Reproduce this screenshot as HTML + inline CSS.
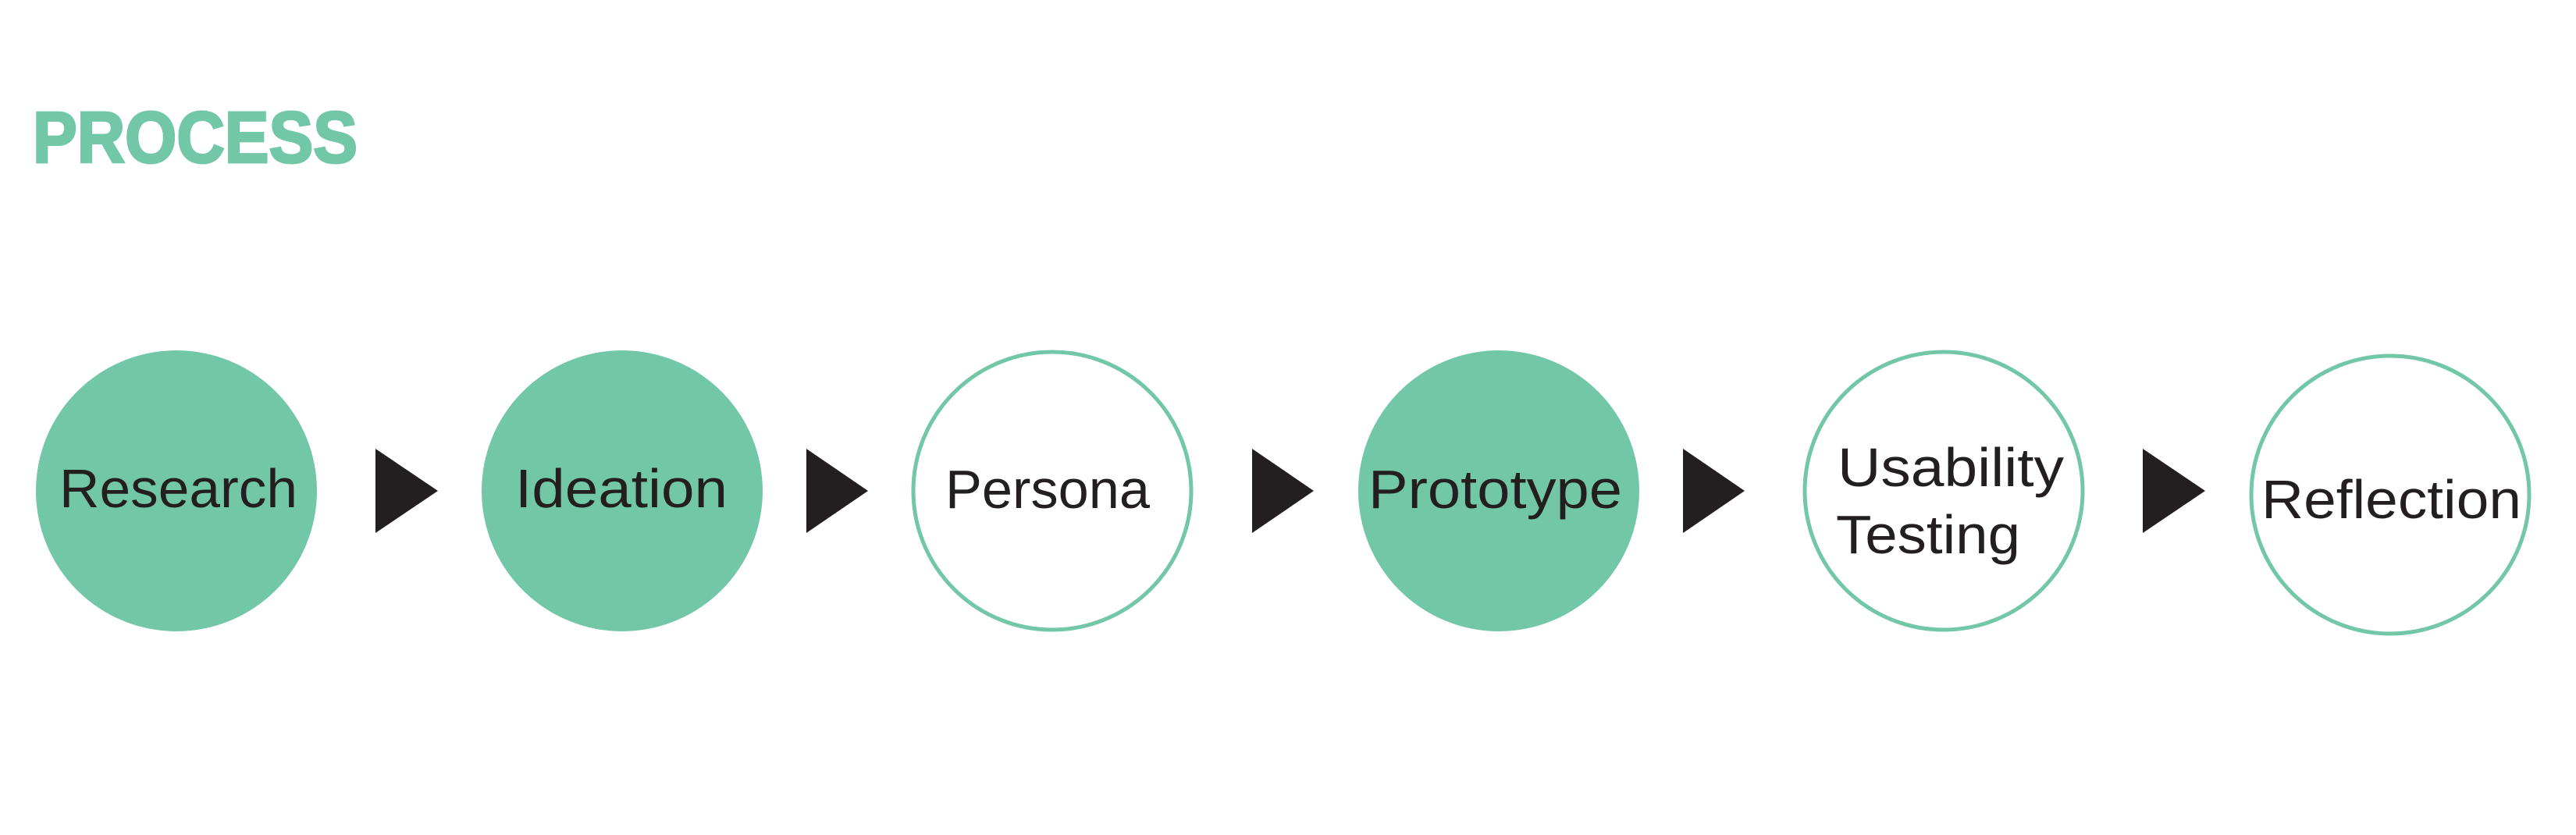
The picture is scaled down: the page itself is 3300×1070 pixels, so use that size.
<!DOCTYPE html>
<html><head><meta charset="utf-8"><style>
html,body{margin:0;padding:0;background:#fff;}
svg{display:block;}
</style></head><body>
<svg width="3300" height="1070" viewBox="0 0 3300 1070" xmlns="http://www.w3.org/2000/svg">
<rect width="3300" height="1070" fill="#fff"/>
<text x="42" y="208" font-family="Liberation Sans, sans-serif" font-weight="bold" font-size="93" fill="#72c7a6" stroke="#72c7a6" stroke-width="3" textLength="416" lengthAdjust="spacingAndGlyphs">PROCESS</text>
<g fill="#72c7a6">
<circle cx="226" cy="629" r="180"/>
<circle cx="797" cy="629" r="180"/>
<circle cx="1920" cy="629" r="180"/>
</g>
<g fill="none" stroke="#72c7a6" stroke-width="5">
<circle cx="1348" cy="629" r="178"/>
<circle cx="2490" cy="629" r="178"/>
<circle cx="3062" cy="634" r="178"/>
</g>
<g fill="#231f20">
<polygon points="481,575 561,629 481,683"/>
<polygon points="1033,575 1112,629 1033,683"/>
<polygon points="1604,575 1683,629 1604,683"/>
<polygon points="2156,575 2235,629 2156,683"/>
<polygon points="2745,575 2825,629 2745,683"/>
</g>
<g font-family="Liberation Sans, sans-serif" font-size="70" fill="#231f20">
<text x="76" y="650" textLength="305" lengthAdjust="spacingAndGlyphs">Research</text>
<text x="660" y="650" textLength="272" lengthAdjust="spacingAndGlyphs">Ideation</text>
<text x="1211" y="651" textLength="262" lengthAdjust="spacingAndGlyphs">Persona</text>
<text x="1753" y="651" textLength="325" lengthAdjust="spacingAndGlyphs">Prototype</text>
<text x="2354" y="623" textLength="290" lengthAdjust="spacingAndGlyphs">Usability</text>
<text x="2352" y="709" textLength="236" lengthAdjust="spacingAndGlyphs">Testing</text>
<text x="2897" y="664" textLength="333" lengthAdjust="spacingAndGlyphs">Reflection</text>
</g>
</svg>
</body></html>
